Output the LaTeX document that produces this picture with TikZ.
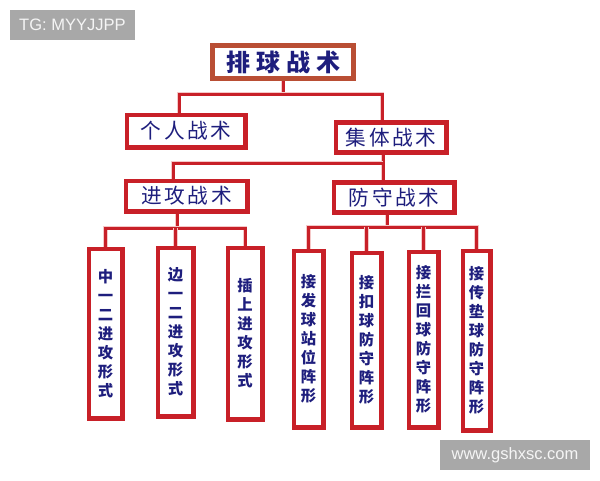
\documentclass[tikz,border=0pt]{standalone}
\usepackage{fontspec}
\setmainfont{Liberation Sans}
\newfontfamily\cjk{Noto Sans CJK SC}
\definecolor{boxred}{RGB}{200,32,40}
\definecolor{rootred}{RGB}{185,78,52}
\definecolor{navy}{RGB}{30,30,125}
\definecolor{wmgray}{RGB}{168,168,168}
\definecolor{glow}{RGB}{245,200,200}
\begin{document}
\begin{tikzpicture}[x=0.75pt,y=-0.75pt,
  base/.style={rectangle,draw=boxred,line width=2.25pt,fill=white,inner sep=0pt,text=navy,
    preaction={draw=glow,line width=3.6pt}},
  rootbox/.style={base,draw=rootred,font={\cjk\bfseries\fontsize{18}{20}\selectfont}},
  midbox/.style={base,font={\cjk\fontsize{15.5}{18}\selectfont}},
  vbox/.style={base,align=center,font={\cjk\bfseries\fontsize{11.5}{14.25}\selectfont}},
  conn/.style={draw=boxred,line width=2.25pt,preaction={draw=glow,line width=3.4pt}},
  wm/.style={rectangle,fill=wmgray,text={rgb,255:red,245;green,245;blue,245},inner sep=0pt,
    font=\fontsize{12.4}{14}\selectfont}
]
\useasboundingbox (0,0) rectangle (600,480);
\fill[white] (0,0) rectangle (600,480);

\coordinate (bus1) at (283,94);
\coordinate (bus2) at (383,163);
\coordinate (bus3) at (177,228);
\coordinate (bus4) at (387,227);

% nodes
\node[rootbox,minimum width=104.6pt,minimum height=23.6pt] (root) at (283,62) {排\hspace{4.5pt}球\hspace{4.5pt}战\hspace{4.5pt}术};
\node[midbox,minimum width=87.75pt,minimum height=23.25pt] (ind) at (186,131) {个\hspace{2pt}人\hspace{2pt}战\hspace{2pt}术};
\node[midbox,minimum width=81.75pt,minimum height=21.4pt] (col) at (391,137.5) {集\hspace{2pt}体\hspace{2pt}战\hspace{2pt}术};
\node[midbox,minimum width=90pt,minimum height=21.75pt] (att) at (186.5,196) {进\hspace{2pt}攻\hspace{2pt}战\hspace{2pt}术};
\node[midbox,minimum width=89.25pt,minimum height=21.4pt] (def) at (394,197.5) {防\hspace{2pt}守\hspace{2pt}战\hspace{2pt}术};

\node[vbox,minimum width=24pt,minimum height=126pt] (a1) at (105.5,333.5) {中\\一\\二\\进\\攻\\形\\式};
\node[vbox,minimum width=25.5pt,minimum height=125.25pt] (a2) at (175.5,332) {边\\一\\二\\进\\攻\\形\\式};
\node[vbox,minimum width=24.75pt,minimum height=127.5pt] (a3) at (245,333.5) {插\\上\\进\\攻\\形\\式};

\node[vbox,minimum width=21pt,minimum height=131.25pt] (d1) at (308.5,339) {接\\发\\球\\站\\位\\阵\\形};
\node[vbox,minimum width=21pt,minimum height=129.75pt] (d2) at (366.5,340) {接\\扣\\球\\防\\守\\阵\\形};
\node[vbox,minimum width=21pt,minimum height=130.5pt] (d3) at (423.5,339.5) {接\\拦\\回\\球\\防\\守\\阵\\形};
\node[vbox,minimum width=19.5pt,minimum height=133.5pt] (d4) at (476.5,340.5) {接\\传\\垫\\球\\防\\守\\阵\\形};

% connectors
\draw[conn] (root.south) -- (bus1);
\draw[conn] ([xshift=-5.25pt]ind.north) |- (bus1) -| ([xshift=-6.75pt]col.north);
\draw[conn] ([xshift=-6pt]col.south) -- ([xshift=-6pt]col.south |- def.north);
\draw[conn] ([xshift=-10.1pt]att.north) |- (bus2);
\draw[conn] ([xshift=-7.1pt]att.south) -- ([xshift=-7.1pt]att.south |- bus3);
\draw[conn] (a1.north) |- (bus3) -| (a3.north);
\draw[conn] (a2.north) -- (a2.north |- bus3);
\draw[conn] ([xshift=-5.25pt]def.south) -- ([xshift=-5.25pt]def.south |- bus4);
\draw[conn] (d1.north) |- (bus4) -| (d4.north);
\draw[conn] (d2.north) -- (d2.north |- bus4);
\draw[conn] (d3.north) -- (d3.north |- bus4);

% redraw box borders over connector ends
\foreach \n in {ind,col,att,def,a1,a2,a3,d1,d2,d3,d4}{
  \draw[boxred,line width=2.25pt] (\n.north west) rectangle (\n.south east);
}
\draw[rootred,line width=2.25pt] (root.north west) rectangle (root.south east);

% watermarks
\node[wm,minimum width=93.75pt,minimum height=22.5pt] (tg) at (72.5,25) {TG: MYYJJPP};
\node[wm,minimum width=112.5pt,minimum height=22.5pt] (site) at (515,455) {www.gshxsc.com};
\end{tikzpicture}
\end{document}
